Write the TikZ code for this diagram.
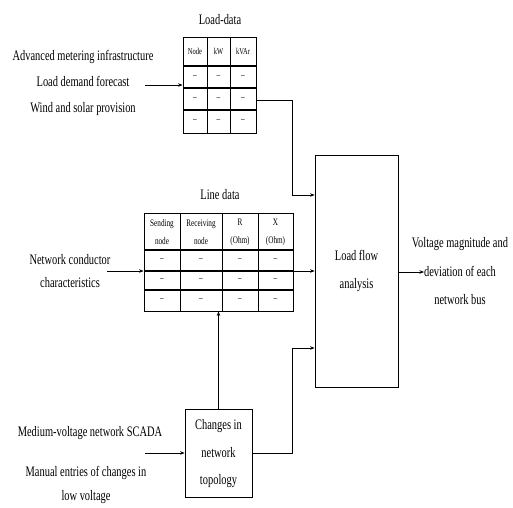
\documentclass[tikz,border=0pt]{standalone}
\usepackage{fontspec}
\setmainfont[FakeStretch=0.72]{Liberation Serif}
\usetikzlibrary{arrows.meta,positioning}
\begin{document}
\begin{tikzpicture}[x=1pt,y=1pt,
  line width=0.8pt,
  lbl/.style={inner sep=0pt,align=center,font=\fontsize{14.5}{26}\selectfont},
  ttl/.style={inner sep=0pt,font=\fontsize{14.5}{16}\selectfont},
  hdr/.style={inner sep=0pt,align=center,font=\fontsize{10}{18}\selectfont},
  cell/.style={inner sep=0pt,font=\fontsize{10}{11}\selectfont},
  box/.style={draw,rectangle,inner sep=0pt},
  rule/.style={line width=1.1pt},
  arr/.style={-{Stealth[length=4.5pt,width=3.5pt]},line width=0.7pt},
  con/.style={line width=0.7pt}
]
\useasboundingbox (0,0) rectangle (513,-507);

% ---------- Load-data table ----------
\node[ttl] (ldtitle) at (220,-20) {Load-data};
\node[box,minimum width=73pt,minimum height=96pt] (ld) at (219.5,-85) {};
\foreach \y in {66,88,110} \draw[rule] (183,-\y) -- (256,-\y);
\foreach \x in {207,230} \draw (\x,-37) -- (\x,-133);
\node[hdr,font=\fontsize{9}{10}\selectfont] (ldh1) at (195,-51.5) {Node};
\node[hdr,font=\fontsize{9}{10}\selectfont] (ldh2) at (218.5,-51.5) {kW};
\node[hdr,font=\fontsize{9}{10}\selectfont] (ldh3) at (243,-51.5) {kVAr};
\foreach \r/\y in {1/77,2/99,3/121.5}{
  \node[cell] (ldc\r a) at (195,-\y) {--};
  \node[cell] (ldc\r b) at (218.5,-\y) {--};
  \node[cell] (ldc\r c) at (243,-\y) {--};
}

% ---------- Line data table ----------
\node[ttl] (lttitle) at (220,-195) {Line data};
\node[box,minimum width=149pt,minimum height=98pt] (lt) at (218.5,-262) {};
\foreach \y in {250,271,290} \draw[rule] (144,-\y) -- (293,-\y);
\foreach \x in {180,222,258} \draw (\x,-213) -- (\x,-311);
\node[hdr] (lth1) at (162,-232) {Sending\\node};
\node[hdr] (lth2) at (201,-232) {Receiving\\node};
\node[hdr] (lth3) at (240,-232) {R\\(Ohm)};
\node[hdr] (lth4) at (275.5,-232) {X\\(Ohm)};
\foreach \r/\y in {1/260.5,2/280.5,3/300.5}{
  \node[cell] (ltc\r a) at (162,-\y) {--};
  \node[cell] (ltc\r b) at (201,-\y) {--};
  \node[cell] (ltc\r c) at (240,-\y) {--};
  \node[cell] (ltc\r d) at (275.5,-\y) {--};
}

% ---------- Processing blocks ----------
\node[box,minimum width=83pt,minimum height=232pt] (lf) at (356.5,-271) {};
\node[lbl,font=\fontsize{14.5}{28}\selectfont] (lftext) at (356.5,-271) {Load flow\\analysis};
\node[box,minimum width=67pt,minimum height=88pt] (ch) at (218.5,-453) {};
\node[lbl,font=\fontsize{14.5}{27.5}\selectfont] (chtext) at (218.5,-454) {Changes in\\network\\topology};

% ---------- Input / output texts ----------
\node[lbl] (ami) at (83,-83) {Advanced metering infrastructure\\Load demand forecast\\Wind and solar provision};
\node[lbl,font=\fontsize{14.5}{23}\selectfont] (ncc) at (70,-271.5) {Network conductor\\characteristics};
\node[lbl] (scada) at (90,-433) {Medium-voltage network SCADA};
\node[lbl,font=\fontsize{14.5}{24}\selectfont] (manual) at (86,-485) {Manual entries of changes in\\low voltage};
\node[lbl,font=\fontsize{14.5}{28.5}\selectfont] (out) at (460,-271.5) {Voltage magnitude and\\deviation of each\\network bus};

% ---------- Connectors ----------
\coordinate (amiend) at (145,-85);
\coordinate (nccend) at (107,-271);
\coordinate (scadaend) at (145,-453);
\coordinate (outend) at (424,-272);
\coordinate (bendA) at (292,-100);
\coordinate (bendB) at (292,-453);

\draw[arr] (amiend) -- (ld.west |- amiend);
\draw[arr] (nccend) -- (lt.west |- nccend);
\draw[arr] (scadaend) -- (ch.west |- scadaend);

\draw[arr] (ld.east |- bendA) -- (bendA) |- (lf.west |- 0,-195);
\draw[arr] (lt.east |- 0,-271) -- (lf.west |- 0,-271);
\draw[arr] (ch.east |- bendB) -- (bendB) |- (lf.west |- 0,-348);
\draw[arr] (ch.north) -- (lt.south);
\draw[arr] (lf.east |- outend) -- (outend);
\end{tikzpicture}
\end{document}
